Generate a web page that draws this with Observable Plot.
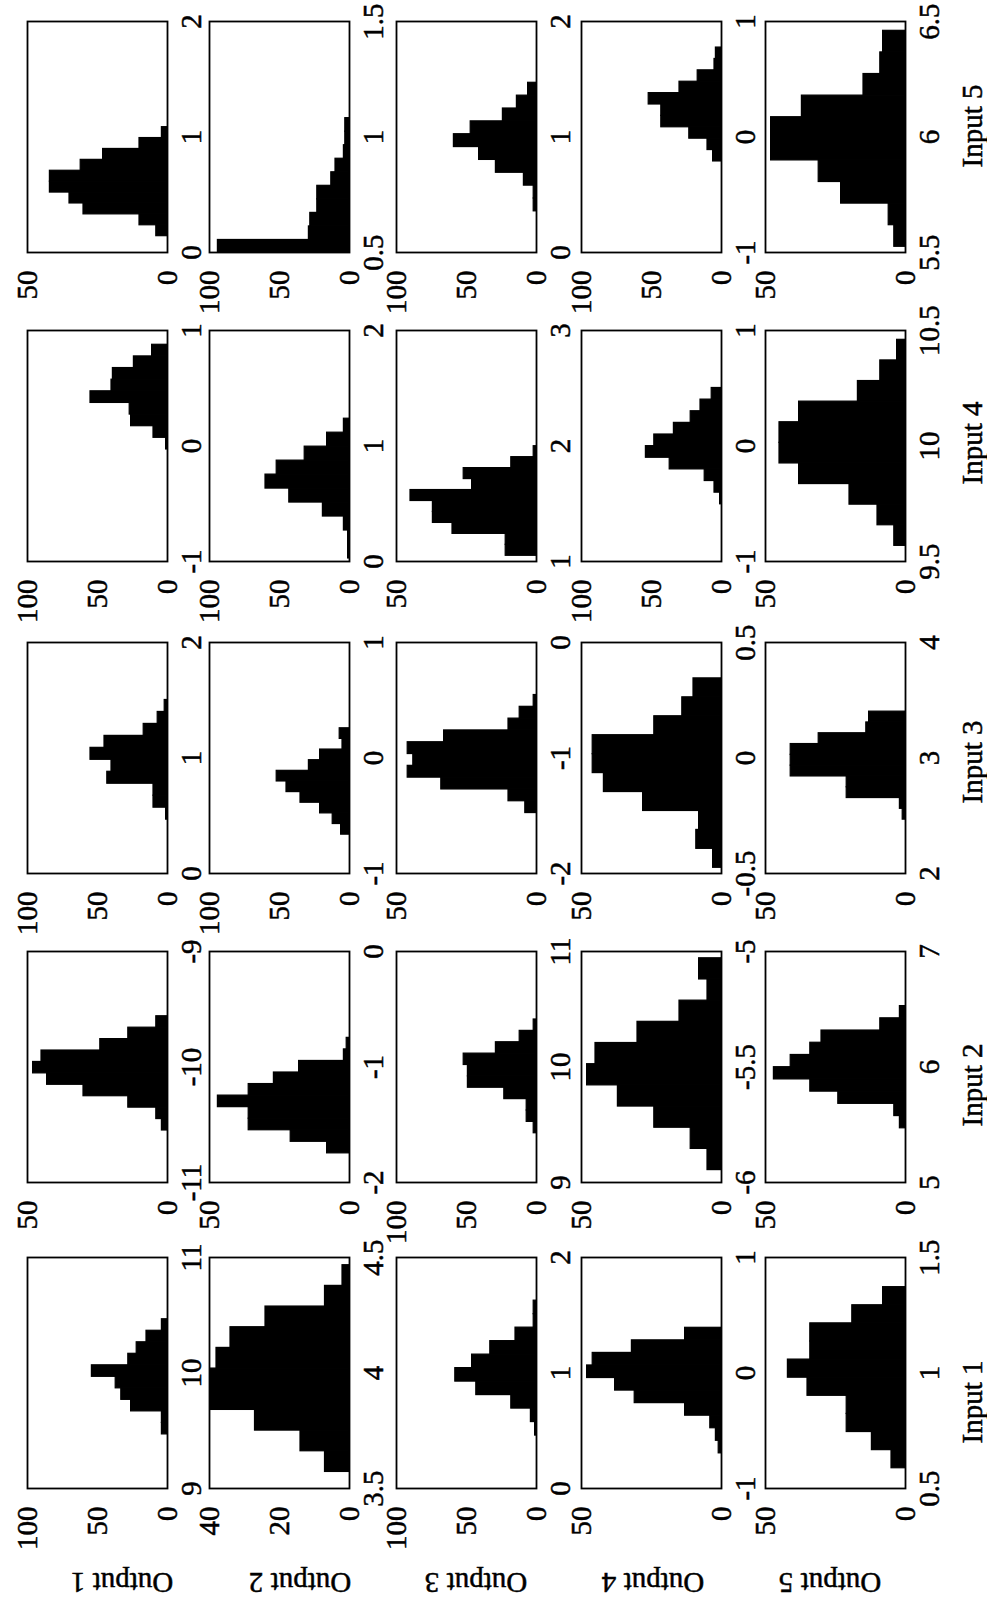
<!DOCTYPE html>
<html>
<head>
<meta charset="utf-8">
<script src="https://cdn.jsdelivr.net/npm/d3@7"></script>
<script src="https://cdn.jsdelivr.net/npm/@observablehq/plot@0.6"></script>
<style>
  html, body { margin: 0; padding: 0; background: #fff; overflow: hidden; width: 987px; height: 1600px; }
  #fig { position: absolute; left: 0; top: 0; width: 1600px; height: 987px;
         transform-origin: 0 0; transform: translate(0px, 1600px) rotate(-90deg);
         font-family: "Liberation Serif", "Times New Roman", serif; }
  #fig text { stroke: black; stroke-width: 0.5px; }
</style>
</head>
<body>
<div id="fig"></div>
<script>
// ---------------- DATA ----------------
const inputs  = ["Input 1", "Input 2", "Input 3", "Input 4", "Input 5"];
const outputs = ["Output 1", "Output 2", "Output 3", "Output 4", "Output 5"];

// x-axis tick labels of each panel (one entry per input), per output row
const xTicks_O1 = [[9, 10, 11], [-11, -10, -9], [0, 1, 2], [-1, 0, 1], [0, 1, 2]];
const xTicks_O2 = [[3.5, 4, 4.5], [-2, -1, 0], [-1, 0, 1], [0, 1, 2], [0.5, 1, 1.5]];
const xTicks_O3 = [[0, 1, 2], [9, 10, 11], [-2, -1, 0], [1, 2, 3], [0, 1, 2]];
const xTicks_O4 = [[-1, 0, 1], [-6, -5.5, -5], [-0.5, 0, 0.5], [-1, 0, 1], [-1, 0, 1]];
const xTicks_O5 = [[0.5, 1, 1.5], [5, 6, 7], [2, 3, 4], [9.5, 10, 10.5], [5.5, 6, 6.5]];

// top of the count axis of each panel
const yMax_O1 = [100, 50, 100, 100, 50];
const yMax_O2 = [40, 50, 100, 100, 100];
const yMax_O3 = [100, 100, 50, 50, 100];
const yMax_O4 = [50, 50, 50, 100, 100];
const yMax_O5 = [50, 50, 50, 50, 50];
const yTickSets = { 100: [0, 50, 100], 50: [0, 50], 40: [0, 20, 40] };

// histogram span [first bin edge, last bin edge] (10 equal bins)
const binRange_O1 = [[9.477, 10.474], [-10.541, -9.552], [0.475, 1.511], [-0.122, 0.885], [0.150, 1.094]];
const binRange_O2 = [[3.576, 4.471], [-1.739, -0.739], [-0.655, 0.266], [0.035, 1.245], [0.5, 1.086]];
const binRange_O3 = [[0.467, 1.635], [9.435, 10.42], [-1.468, -0.446], [1.058, 2.007], [0.365, 1.478]];
const binRange_O4 = [[-0.687, 0.4], [-5.942, -5.025], [-0.471, 0.349], [-0.496, 0.511], [-0.203, 0.783]];
const binRange_O5 = [[0.592, 1.376], [5.478, 6.536], [2.475, 3.410], [9.572, 10.464], [5.529, 6.464]];

// bin counts, low to high value
const counts_O1 = [
  [4, 4, 26, 33, 37, 54, 28, 22, 15, 4],
  [2, 4, 14, 30, 43, 48, 45, 24, 14, 4],
  [1, 10, 10, 43, 40, 55, 45, 17, 7, 2],
  [0, 1, 10, 26, 27, 55, 40, 39, 24, 11],
  [4, 10, 30, 35, 42, 42, 31, 23, 10, 2]
];
const counts_O2 = [
  [7, 14, 27, 42, 42, 38, 34, 24, 7, 2],
  [8, 21, 36, 36, 47, 36, 27, 18, 2, 1],
  [6, 12, 21, 35, 45, 52, 29, 21, 5, 7],
  [1, 1, 4, 19, 43, 60, 52, 32, 16, 4],
  [94, 29, 28, 23, 23, 13, 10, 4, 3, 3]
];
const counts_O3 = [
  [1, 4, 18, 43, 58, 46, 33, 15, 2, 2],
  [2, 7, 7, 23, 49, 49, 52, 29, 12, 2],
  [4, 10, 34, 46, 44, 46, 33, 10, 6, 1],
  [11, 11, 30, 37, 37, 45, 23, 26, 9, 1],
  [2, 2, 9, 29, 41, 59, 47, 24, 14, 6]
];
const counts_O4 = [
  [1, 2, 4, 13, 31, 38, 48, 46, 32, 13],
  [5, 11, 24, 37, 48, 45, 30, 15, 5, 8],
  [3, 9, 8, 28, 42, 46, 46, 24, 14, 10],
  [1, 5, 12, 37, 54, 48, 34, 22, 15, 7],
  [6, 10, 23, 43, 43, 52, 30, 17, 5, 4]
];
const counts_O5 = [
  [5, 12, 21, 21, 35, 42, 34, 34, 19, 8],
  [2, 4, 24, 34, 47, 41, 34, 30, 9, 2],
  [1, 2, 21, 21, 41, 41, 41, 31, 14, 13],
  [4, 10, 20, 38, 45, 45, 38, 17, 9, 3],
  [4, 6, 23, 31, 48, 48, 37, 15, 9, 8]
];

// ---------------- LAYOUT (figure drawn upright, then turned a quarter) ----------------
const boxLeft = [111, 417, 726, 1038, 1347];   // per input
const boxTop  = [27, 209, 396, 581, 765];      // per output
const boxW = 231, boxH = 140;
const mL = 70, mR = 20, mT = 20, mB = 50;
const FONT = "Liberation Serif, Times New Roman, serif";
const FS = 29;
const outLabelY = [122, 300, 476, 653, 830];
const inLabelX  = [198, 515, 838, 1157, 1474];

const rows = [
  { xTicks: xTicks_O1, yMax: yMax_O1, range: binRange_O1, counts: counts_O1 },
  { xTicks: xTicks_O2, yMax: yMax_O2, range: binRange_O2, counts: counts_O2 },
  { xTicks: xTicks_O3, yMax: yMax_O3, range: binRange_O3, counts: counts_O3 },
  { xTicks: xTicks_O4, yMax: yMax_O4, range: binRange_O4, counts: counts_O4 },
  { xTicks: xTicks_O5, yMax: yMax_O5, range: binRange_O5, counts: counts_O5 }
];

const fig = document.getElementById("fig");

rows.forEach((row, r) => {
  inputs.forEach((inp, c) => {
    const ticks = row.xTicks[c];
    const [lo, hi] = row.range[c];
    const cnt = row.counts[c];
    const w = (hi - lo) / cnt.length;
    const bins = cnt.map((n, i) => ({ x1: lo + i * w, x2: lo + (i + 1) * w, n }));
    const ym = row.yMax[c];
    const svg = Plot.plot({
      width: boxW + mL + mR,
      height: boxH + mT + mB,
      marginLeft: mL, marginRight: mR, marginTop: mT, marginBottom: mB,
      x: { domain: [ticks[0], ticks[ticks.length - 1]], ticks: ticks, tickFormat: d => String(d),
           tickSize: 0, tickPadding: 13, label: null },
      y: { domain: [0, ym], ticks: yTickSets[ym], tickFormat: d => String(d),
           tickSize: 0, tickPadding: 18, label: null },
      style: { fontFamily: FONT, fontSize: FS + "px", background: "transparent",
               overflow: "visible", color: "black" },
      marks: [
        Plot.rect(bins, { x1: "x1", x2: "x2", y1: 0, y2: "n", fill: "black",
                          stroke: "black", strokeWidth: 1.2, inset: 0, clip: true }),
        Plot.frame({ stroke: "black", strokeWidth: 1.8 })
      ]
    });
    svg.style.position = "absolute";
    svg.style.left = (boxLeft[c] - mL) + "px";
    svg.style.top = (boxTop[r] - mT) + "px";
    svg.style.maxWidth = "none";
    fig.appendChild(svg);
  });
});

// row and column titles
const NS = "http://www.w3.org/2000/svg";
const lab = document.createElementNS(NS, "svg");
lab.setAttribute("width", 1600);
lab.setAttribute("height", 987);
lab.style.position = "absolute";
lab.style.left = "0px";
lab.style.top = "0px";
lab.style.overflow = "visible";
lab.style.pointerEvents = "none";
outputs.forEach((t, i) => {
  const el = document.createElementNS(NS, "text");
  el.setAttribute("transform", `translate(17,${outLabelY[i]}) rotate(-90)`);
  el.setAttribute("text-anchor", "middle");
  el.setAttribute("dominant-baseline", "central");
  el.setAttribute("font-family", FONT);
  el.setAttribute("font-size", FS);
  el.textContent = t;
  lab.appendChild(el);
});
inputs.forEach((t, i) => {
  const el = document.createElementNS(NS, "text");
  el.setAttribute("x", inLabelX[i]);
  el.setAttribute("y", 972);
  el.setAttribute("text-anchor", "middle");
  el.setAttribute("dominant-baseline", "central");
  el.setAttribute("font-family", FONT);
  el.setAttribute("font-size", FS);
  el.textContent = t;
  lab.appendChild(el);
});
fig.appendChild(lab);
</script>
</body>
</html>
